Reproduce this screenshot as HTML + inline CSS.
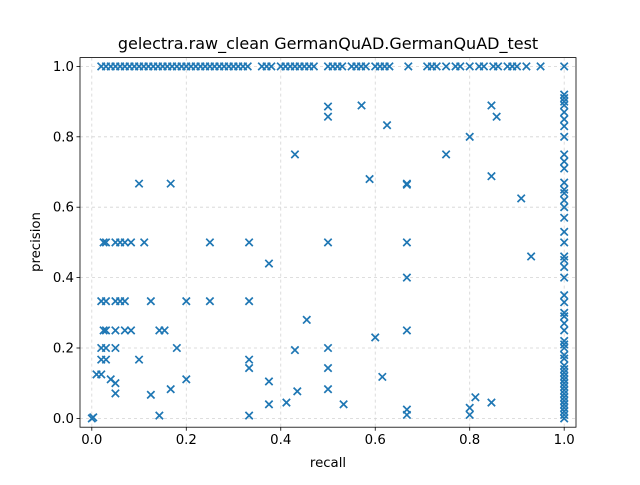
<!DOCTYPE html>
<html><head><meta charset="utf-8"><style>
body{margin:0;background:#fff}
svg{font-family:"DejaVu Sans","Liberation Sans",sans-serif}
</style></head><body>
<svg id="chart" width="640" height="480">
<rect width="640" height="480" fill="#fff"/>
<text x="328" y="49" text-anchor="middle" font-size="16">gelectra.raw_clean GermanQuAD.GermanQuAD_test</text>
<g id="grid"></g><g id="marks"></g><g id="axes"></g>
<text x="328" y="467" text-anchor="middle" font-size="13.3">recall</text>
<text transform="translate(40,242) rotate(-90)" text-anchor="middle" font-size="13.3">precision</text>
</svg>
<script>
const topRecalls=[0.02,0.03,0.04,0.05,0.06,0.07,0.08,0.09,0.1,0.11,0.12,0.13,0.14,0.15,0.16,0.17,0.18,0.19,0.2,0.21,0.22,0.23,0.24,0.25,0.26,0.27,0.28,0.29,0.3,0.31,0.32,0.33,0.36,0.37,0.38,0.4,0.41,0.42,0.43,0.44,0.45,0.46,0.47,0.5,0.51,0.52,0.53,0.55,0.56,0.57,0.58,0.6,0.61,0.62,0.63,0.67,0.71,0.72,0.73,0.75,0.77,0.78,0.8,0.82,0.83,0.85,0.86,0.88,0.89,0.9,0.92,0.95];
const fullRecallPrecisions=[0,0.01,0.02,0.03,0.04,0.05,0.06,0.07,0.08,0.09,0.1,0.11,0.12,0.13,0.14,0.15,0.17,0.18,0.2,0.21,0.22,0.25,0.27,0.29,0.3,0.33,0.35,0.4,0.43,0.45,0.46,0.5,0.53,0.57,0.6,0.62,0.64,0.65,0.67,0.71,0.73,0.75,0.8,0.83,0.85,0.87,0.89,0.9,0.91,0.92,1.0];
const otherRecalls=[0.5,0.5,0.571,0.625,0.43,0.75,0.8,0.846,0.857,0.1,0.167,0.588,0.667,0.667,0.846,0.909,0.93,0.025,0.03,0.05,0.06,0.07,0.083,0.111,0.25,0.333,0.5,0.667,0.375,0.667,0.02,0.03,0.05,0.06,0.07,0.125,0.2,0.25,0.333,0.455,0.025,0.03,0.05,0.07,0.083,0.143,0.154,0.667,0.6,0.1,0.18,0.43,0.5,0.02,0.03,0.05,0.02,0.03,0.01,0.02,0.333,0.333,0.5,0.2,0.04,0.05,0.05,0.125,0.167,0.143,0.375,0.375,0.412,0.435,0.5,0.533,0.615,0.333,0.667,0.667,0.8,0.8,0.812,0.846,0,0.003];
const otherPrecisions=[0.886,0.857,0.889,0.833,0.75,0.75,0.8,0.889,0.857,0.667,0.667,0.68,0.667,0.664,0.688,0.625,0.46,0.5,0.5,0.5,0.5,0.5,0.5,0.5,0.5,0.5,0.5,0.5,0.44,0.4,0.333,0.333,0.333,0.333,0.333,0.333,0.333,0.333,0.333,0.28,0.25,0.25,0.25,0.25,0.25,0.25,0.25,0.25,0.23,0.167,0.2,0.194,0.2,0.2,0.2,0.2,0.167,0.167,0.125,0.125,0.167,0.143,0.143,0.111,0.111,0.1,0.071,0.067,0.083,0.008,0.105,0.04,0.045,0.077,0.083,0.04,0.118,0.008,0.025,0.01,0.03,0.01,0.06,0.045,0,0.003];
const xTicks=["0.0","0.2","0.4","0.6","0.8","1.0"];
const yTicks=["0.0","0.2","0.4","0.6","0.8","1.0"];
const L=80,R=576,T=57.6,B=427.2,lo=-0.025,hi=1.025;
const sx=v=>L+(v-lo)/(hi-lo)*(R-L), sy=v=>B-(v-lo)/(hi-lo)*(B-T);
const NS="http://www.w3.org/2000/svg";
function mk(t,a,p){const e=document.createElementNS(NS,t);for(const k in a)e.setAttribute(k,a[k]);p.appendChild(e);return e;}
const grid=document.getElementById('grid'),axes=document.getElementById('axes'),marks=document.getElementById('marks');
xTicks.forEach(t=>{const x=sx(+t);
 const g=mk('line',{x1:x,x2:x,y1:T,y2:B,stroke:'#d3d3d3','stroke-dasharray':'3,3','stroke-width':0.8},grid);
 
 mk('line',{x1:x,x2:x,y1:B,y2:B+3.5,stroke:'#000','stroke-width':0.8},axes);
 const tx=mk('text',{x:x,y:B+17,'text-anchor':'middle','font-size':13.3},axes);tx.textContent=t;
 });
yTicks.forEach(t=>{const y=sy(+t);
 const g=mk('line',{x1:L,x2:R,y1:y,y2:y,stroke:'#d3d3d3','stroke-dasharray':'3,3','stroke-width':0.8},grid);
 
 mk('line',{x1:L-3.5,x2:L,y1:y,y2:y,stroke:'#000','stroke-width':0.8},axes);
 const tx=mk('text',{x:L-6,y:y+4.5,'text-anchor':'end','font-size':13.3},axes);tx.textContent=t;
 });
const fr=mk('rect',{x:L,y:T,width:R-L,height:B-T,fill:'none',stroke:'#000','stroke-width':0.8},axes);

function pt(r,p){const x=sx(r),y=sy(p),s=3.7;
 const g=mk('path',{d:`M${x-s},${y-s}L${x+s},${y+s}M${x-s},${y+s}L${x+s},${y-s}`,stroke:'#1f77b4','stroke-width':1.7,fill:'none'},marks);
 }
topRecalls.forEach(r=>pt(r,1));
fullRecallPrecisions.forEach(p=>pt(1,p));
otherRecalls.forEach((r,i)=>pt(r,otherPrecisions[i]));
</script>
</body></html>
